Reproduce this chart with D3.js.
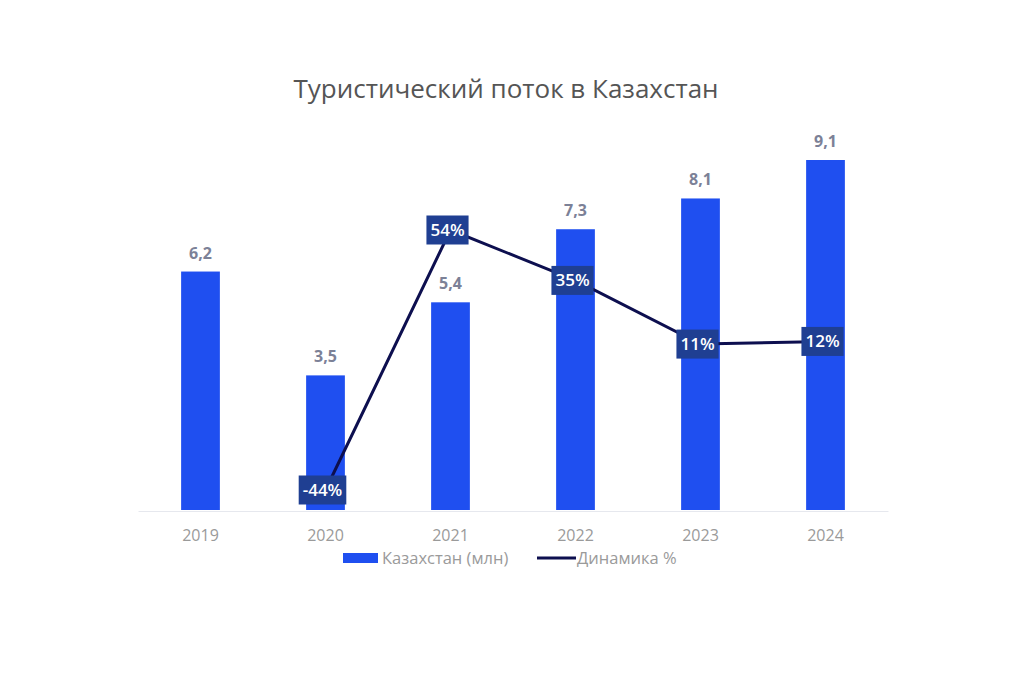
<!DOCTYPE html>
<html>
<head>
<meta charset="utf-8">
<script src="https://cdn.jsdelivr.net/npm/d3@7"></script>
<style>
  body { margin: 0; background: #fff; font-family: "Open Sans", sans-serif; }
</style>
</head>
<body>
<div id="chart"></div>
<script>
// data
var years = ["2019", "2020", "2021", "2022", "2023", "2024"];
var tourists = [6.2, 3.5, 5.4, 7.3, 8.1, 9.1];
var growth = [null, -44, 54, 35, 11, 12];
var valueLabels = ["6,2", "3,5", "5,4", "7,3", "8,1", "9,1"];

var width = 1024, height = 683;
var margin = {top: 160, right: 136, bottom: 173, left: 138};
var innerW = width - margin.left - margin.right,
    innerH = height - margin.top - margin.bottom;

var svg = d3.select("#chart")
    .append("svg")
    .attr("width", width)
    .attr("height", height);

svg.append("text")
    .attr("x", 506)
    .attr("y", 98)
    .attr("text-anchor", "middle")
    .style("font-size", "26px")
    .style("fill", "#555")
    .text("Туристический поток в Казахстан");

var g = svg.append("g")
    .attr("transform", "translate(" + margin.left + "," + margin.top + ")");

var x = d3.scaleBand()
    .domain(years)
    .range([0, innerW])
    .paddingInner(0.69)
    .paddingOuter(0.345);

var y = d3.scaleLinear()
    .domain([0, 9.1])
    .range([innerH, 0]);

// second axis for the percentage line
var y2 = d3.scaleLinear()
    .domain([-44, 54])
    .range([innerH - 20, 70]);

// x axis
var xAxis = g.append("g")
    .attr("transform", "translate(0," + (innerH + 1) + ")")
    .call(d3.axisBottom(x).tickSize(0).tickPadding(19));
xAxis.select(".domain").attr("stroke", "#e6e8ee");
xAxis.selectAll("text")
    .style("font-family", "Open Sans")
    .style("font-size", "16px")
    .style("fill", "#9a9a9a");

// bars
g.selectAll(".bar")
    .data(tourists)
    .enter()
    .append("rect")
    .attr("class", "bar")
    .attr("x", function(d, i){ return x(years[i]); })
    .attr("y", function(d){ return y(d); })
    .attr("width", x.bandwidth())
    .attr("height", function(d){ return innerH - y(d); })
    .style("fill", "#1f4ff0");

g.selectAll(".val")
    .data(tourists)
    .enter()
    .append("text")
    .attr("class", "val")
    .attr("x", function(d, i){ return x(years[i]) + x.bandwidth() / 2; })
    .attr("y", function(d){ return y(d) - 13; })
    .attr("text-anchor", "middle")
    .style("font-size", "16px")
    .style("font-weight", "700")
    .style("fill", "#7c8197")
    .text(function(d, i){ return valueLabels[i]; });

// line
var pts = growth.map(function(d, i){ return {year: years[i], v: d}; })
    .filter(function(d){ return d.v !== null; });

var line = d3.line()
    .x(function(d){ return x(d.year) + x.bandwidth() / 2; })
    .y(function(d){ return y2(d.v); });

g.append("path")
    .datum(pts)
    .attr("d", line)
    .attr("fill", "none")
    .attr("stroke", "#0d0f4f")
    .attr("stroke-width", 3);

var lbl = g.selectAll(".pct")
    .data(pts)
    .enter()
    .append("g")
    .attr("class", "pct")
    .attr("transform", function(d){
        return "translate(" + (x(d.year) + x.bandwidth() / 2 - 3) + "," + y2(d.v) + ")";
    });

lbl.append("text")
    .attr("text-anchor", "middle")
    .attr("dy", "0.35em")
    .style("font-size", "17px")
    .style("font-weight", "600")
    .style("fill", "#fff")
    .text(function(d){ return d.v + "%"; });

lbl.insert("rect", "text")
    .each(function(){
        var bb = this.parentNode.querySelector("text").getBBox();
        d3.select(this)
            .attr("x", bb.x - 4)
            .attr("y", -14.5)
            .attr("width", bb.width + 8)
            .attr("height", 29);
    })
    .style("fill", "#1f3f92");

// legend
var legend = svg.append("g");
legend.append("rect")
    .attr("x", 343).attr("y", 553)
    .attr("width", 35).attr("height", 10)
    .style("fill", "#1f4ff0");
legend.append("text")
    .attr("x", 382).attr("y", 564)
    .style("font-size", "16.5px")
    .style("fill", "#9a9a9a")
    .text("Казахстан (млн)");
legend.append("line")
    .attr("x1", 537).attr("x2", 576)
    .attr("y1", 558).attr("y2", 558)
    .attr("stroke", "#0d0f4f")
    .attr("stroke-width", 3);
legend.append("text")
    .attr("x", 577).attr("y", 564)
    .style("font-size", "16.5px")
    .style("fill", "#9a9a9a")
    .text("Динамика %");
</script>
</body>
</html>
